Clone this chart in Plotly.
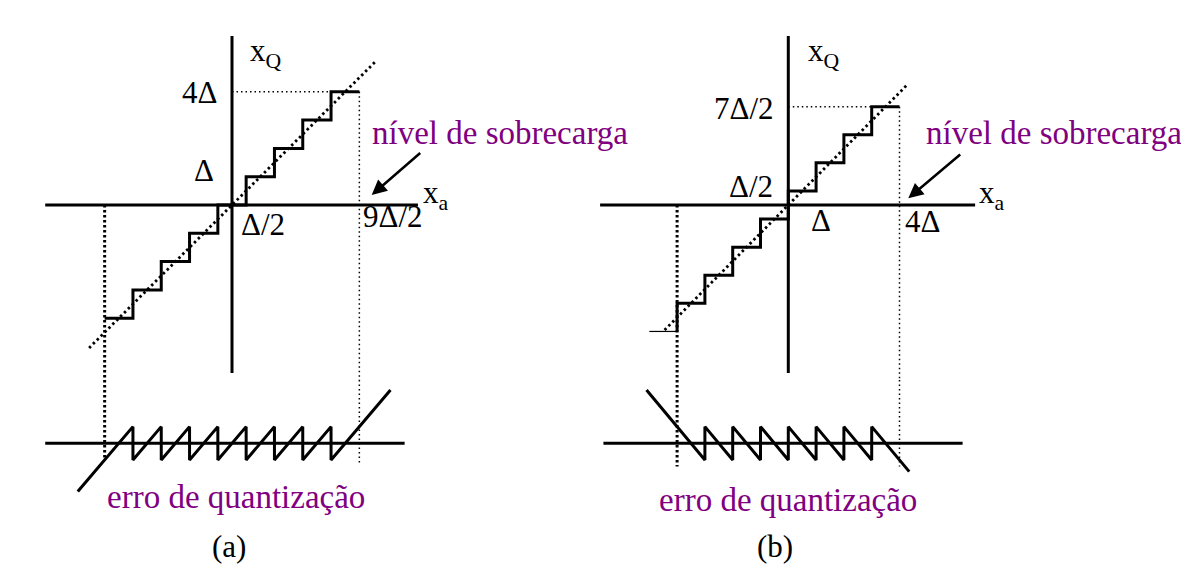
import plotly.graph_objects as go

# page body has an 8px margin, so the figure is drawn 8px in from the window edge
OFF = 8
W, H = 1189 - 2 * OFF, 581 - 2 * OFF

# ---------------- data (all values in units of Δ) ----------------
# (a) mid-tread quantizer: decision thresholds and output levels
a_thresholds = [-4.5, -3.5, -2.5, -1.5, -0.5, 0.5, 1.5, 2.5, 3.5, 4.5]
a_levels = [-4, -3, -2, -1, 0, 1, 2, 3, 4]
# (b) mid-rise quantizer
b_thresholds = [-4, -3, -2, -1, 0, 1, 2, 3, 4]
b_levels = [-3.5, -2.5, -1.5, -0.5, 0.5, 1.5, 2.5, 3.5]
b_tail_level = -4.5
b_tail_start = -5.0
# extent of the ideal (dotted) line x_Q = x_a
a_diag = [-5.05, 5.05]
b_diag = [-4.45, 4.3]
# extent of the drawn quantisation-error curves
a_err_span = [-5.45, 5.6]
b_err_span = [-5.1, 4.35]
# lower ends of the overload guide lines in the error plots
a_guide_bottom = [-0.5, -0.6]
b_guide_bottom = [-0.7, -0.7]
# extents of the drawn axes
a_xaxis_span = [-6.6, 6.57]
a_yaxis_span = [-5.94, 5.97]
a_eaxis_span = [-6.6, 6.1]
b_xaxis_span = [-6.77, 6.72]
b_yaxis_span = [-5.98, 6.01]
b_eaxis_span = [-6.65, 6.27]

# ---------------- geometry (window pixels) ----------------
TOP = (OFF, 380)
BOT = (380, 581 - OFF)
geom = {
    "a": dict(px=(OFF, 570), ox=232.0, oy=205.0, sx=28.3, sy=28.3, eoy=443.3, esy=33.3),
    "b": dict(px=(570, 1189 - OFF), ox=788.3, oy=205.0, sx=27.8, sy=28.1, eoy=443.3, esy=33.3),
}

layout_axes = {}
ranges = {}


def fx(px):
    return (px - OFF) / W


def fy(py):
    return 1 - (py - OFF) / H


def add_axes(idx, px, py, ox, oy, sx, sy):
    xr = [(px[0] - ox) / sx, (px[1] - ox) / sx]
    yr = [(oy - py[1]) / sy, (oy - py[0]) / sy]
    xd = [fx(px[0]), fx(px[1])]
    yd = [fy(py[1]), fy(py[0])]
    sfx = "" if idx == 1 else str(idx)
    layout_axes["xaxis" + sfx] = dict(range=xr, domain=xd, visible=False,
                                      anchor="y" + sfx, fixedrange=True)
    layout_axes["yaxis" + sfx] = dict(range=yr, domain=yd, visible=False,
                                      anchor="x" + sfx, fixedrange=True)
    ranges[idx] = (xr, yr)
    return "x" + sfx, "y" + sfx


ga, gb = geom["a"], geom["b"]
AX_A = add_axes(1, ga["px"], TOP, ga["ox"], ga["oy"], ga["sx"], ga["sy"])
AX_AE = add_axes(2, ga["px"], BOT, ga["ox"], ga["eoy"], ga["sx"], ga["esy"])
AX_B = add_axes(3, gb["px"], TOP, gb["ox"], gb["oy"], gb["sx"], gb["sy"])
AX_BE = add_axes(4, gb["px"], BOT, gb["ox"], gb["eoy"], gb["sx"], gb["esy"])

fig = go.Figure()

SOLID = dict(color="black", width=3)
STEP = dict(color="black", width=3)
THICK_DOT = dict(color="black", width=3, dash="2.5px,2.5px")
DIAG_DOT = dict(color="black", width=2.8, dash="2.5px,3px")
THIN_DOT = dict(color="black", width=1.5, dash="1.5px,3px")


def line(xs, ys, ax, style, shape="linear"):
    fig.add_trace(go.Scatter(x=xs, y=ys, mode="lines", line=dict(style, shape=shape),
                             xaxis=ax[0], yaxis=ax[1], showlegend=False,
                             hoverinfo="skip"))


def err_path(th, lv, span, sign):
    inner = th[1:-1]
    xs = [span[0]]
    ys = [sign * (span[0] - lv[0])]
    for i, t in enumerate(inner):
        xs += [t, t]
        ys += [sign * (t - lv[i]), sign * (t - lv[i + 1])]
    xs.append(span[1])
    ys.append(sign * (span[1] - lv[-1]))
    return xs, ys


# ---------------- panel (a) ----------------
ybot_a = ranges[1][1][0]
ytop_ae = ranges[2][1][1]
line(a_xaxis_span, [0, 0], AX_A, SOLID)
line([0, 0], a_yaxis_span, AX_A, SOLID)
line(a_diag, a_diag, AX_A, DIAG_DOT)
line([0, a_thresholds[-1]], [a_levels[-1]] * 2, AX_A, THIN_DOT)
line([a_thresholds[-1]] * 2, [a_levels[-1], ybot_a], AX_A, THIN_DOT)
line([a_thresholds[0]] * 2, [0, ybot_a], AX_A, THICK_DOT)
line(a_thresholds, a_levels + [a_levels[-1]], AX_A, STEP, shape="hv")
# error
line(a_eaxis_span, [0, 0], AX_AE, SOLID)
line([a_thresholds[0]] * 2, [ytop_ae, a_guide_bottom[0]], AX_AE, THICK_DOT)
line([a_thresholds[-1]] * 2, [ytop_ae, a_guide_bottom[1]], AX_AE, THIN_DOT)
ex, ey = err_path(a_thresholds, a_levels, a_err_span, 1)
line(ex, ey, AX_AE, STEP)

# ---------------- panel (b) ----------------
ybot_b = ranges[3][1][0]
ytop_be = ranges[4][1][1]
line(b_xaxis_span, [0, 0], AX_B, SOLID)
line([0, 0], b_yaxis_span, AX_B, SOLID)
line(b_diag, b_diag, AX_B, DIAG_DOT)
line([0, b_thresholds[-1]], [b_levels[-1]] * 2, AX_B, THIN_DOT)
line([b_thresholds[-1]] * 2, [b_levels[-1], ybot_b], AX_B, THIN_DOT)
line([b_thresholds[0]] * 2, [0, ybot_b], AX_B, THICK_DOT)
line([b_tail_start, b_thresholds[0]], [b_tail_level] * 2, AX_B,
     dict(color="black", width=1.2))
line([b_thresholds[0]] + b_thresholds, [b_tail_level] + b_levels + [b_levels[-1]],
     AX_B, STEP, shape="hv")
# error
line(b_eaxis_span, [0, 0], AX_BE, SOLID)
line([b_thresholds[0]] * 2, [ytop_be, b_guide_bottom[0]], AX_BE, THICK_DOT)
line([b_thresholds[-1]] * 2, [ytop_be, b_guide_bottom[1]], AX_BE, THIN_DOT)
ex, ey = err_path(b_thresholds, b_levels, b_err_span, -1)
line(ex, ey, AX_BE, STEP)

# ---------------- text ----------------
FONT = "Liberation Serif, Times New Roman, serif"
PURPLE = "#800080"
annotations = []


def label(txt, x, y, xanchor="center", color="black", size=31):
    annotations.append(dict(text=txt, x=fx(x), y=fy(y), xref="paper", yref="paper",
                            xanchor=xanchor, yanchor="middle", showarrow=False,
                            font=dict(family=FONT, size=size, color=color)))


def arrow(hx, hy, tx, ty):
    annotations.append(dict(text="", x=fx(hx), y=fy(hy), xref="paper", yref="paper",
                            ax=tx - hx, ay=ty - hy, showarrow=True, arrowhead=2,
                            arrowsize=1.2, arrowwidth=2.5, arrowcolor="black",
                            standoff=0, startstandoff=0))


PSIZE = 33
# (a)
label("x<sub>Q</sub>", 248, 53, "left")
label("4Δ", 219, 92, "right")
label("Δ", 216, 170, "right")
label("Δ/2", 239, 224, "left")
label("9Δ/2", 361, 217, "left")
label("x<sub>a</sub>", 421, 195, "left")
label("nível de sobrecarga", 500, 133, color=PURPLE, size=PSIZE)
arrow(371.7, 195, 421.7, 151.7)
label("erro de quantização", 236, 497, color=PURPLE, size=PSIZE)
label("(a)", 229, 546)

# (b)
label("x<sub>Q</sub>", 806, 53, "left")
label("7Δ/2", 776, 108, "right")
label("Δ/2", 775, 186, "right")
label("Δ", 821, 220)
label("4Δ", 922, 222)
label("x<sub>a</sub>", 977, 195, "left")
label("nível de sobrecarga", 1054, 133, color=PURPLE, size=PSIZE)
arrow(908.3, 198.3, 961.7, 153.3)
label("erro de quantização", 788, 500, color=PURPLE, size=PSIZE)
label("(b)", 775, 546)

fig.update_layout(
    width=W, height=H,
    margin=dict(l=0, r=0, t=0, b=0),
    paper_bgcolor="white", plot_bgcolor="rgba(0,0,0,0)",
    showlegend=False,
    annotations=annotations,
    **layout_axes,
)

fig.write_html("out.html")
